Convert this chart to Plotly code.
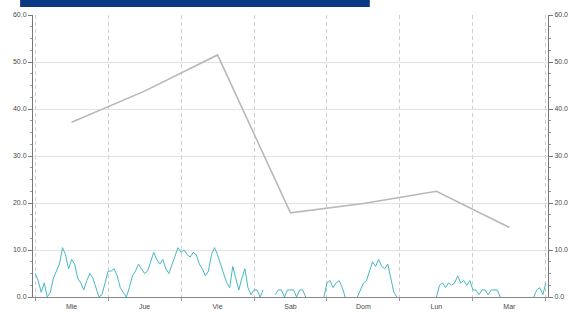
import plotly.graph_objects as go

# Daily values (plotted at noon of each day)
day_labels = ["Mie", "Jue", "Vie", "Sab", "Dom", "Lun", "Mar"]
day_hours = [12, 36, 60, 84, 108, 132, 156]
daily_values = [37.2, 43.8, 51.5, 17.9, 19.9, 22.5, 14.8]

# Hourly series (hours 0..168 from Mie 00:00); None = no data
N = None
hourly_values = [
    5, 3.5, 1, 3, 0, 1, 4, 5.5, 7, 10.5, 9, 6, 8, 7, 4, 3, 1.5, 3.5, 5, 4, 2, 0, 0.5, 3,
    5.5, 5.5, 6, 4.5, 2, 1, 0, 2, 4.5, 5.5, 7, 6, 5, 5.5, 7.5, 9.5, 8, 7, 8, 6, 5, 7, 9, 10.5,
    9.5, 10, 9, 8.5, 9.5, 9, 7, 6, 4.5, 5.5, 9, 10.5, 9, 7, 5, 3, 2, 6.5, 4, 1.5, 4, 6, 2, 0.5,
    1.5, 1.5, 0, 1.5, N, N, N, 0.5, 1.5, 1.5, 0, 1.5, 1.5, 1.5, 0, 1.5, 1.5, 0, N, N, N, N, N, 0,
    3, 3.5, 2, 3, 3.5, 2, 0, N, N, N, 0, 1.5, 3, 3.5, 5.5, 7.5, 6.5, 8, 6.5, 6, 7, 4, 1, 0,
    N, N, N, N, N, N, N, N, N, N, N, N, 0, 2.5, 3, 2, 3, 2.5, 3, 4.5, 3, 3.5, 2.5, 3.5,
    1.5, 1.5, 0.5, 1.5, 1.5, 0.5, 1.5, 1.5, 1.5, 0, N, N, N, N, N, N, N, N, N, N, 0, 1.5, 2, 0.5, 3,
]
hours = list(range(len(hourly_values)))

y_ticks = [0, 10, 20, 30, 40, 50, 60]

fig = go.Figure()
fig.add_trace(go.Scatter(
    x=hours, y=hourly_values, mode="lines",
    line=dict(color="#45b8c6", width=1), connectgaps=False,
    hoverinfo="skip", showlegend=False,
))
fig.add_trace(go.Scatter(
    x=day_hours, y=daily_values, mode="lines", yaxis="y2",
    line=dict(color="#b8b8b8", width=1.6),
    hoverinfo="skip", showlegend=False,
))

axis_font = dict(family="Liberation Sans, Arial, sans-serif", size=7, color="#4a4a4a")
yaxis_common = dict(
    range=[0, 60], tickvals=y_ticks, tickformat=".1f", automargin=False,
    ticks="outside", ticklen=4, tickcolor="#777777",
    showline=True, linecolor="#777777", linewidth=1,
    showgrid=True, gridcolor="#e2e2e2", gridwidth=1,
    zeroline=False, tickfont=axis_font,
    minor=dict(dtick=2.5, ticks="outside", ticklen=2, tickcolor="#999999", showgrid=False),
)

fig.update_layout(
    width=582, height=313,
    margin=dict(l=33, r=34, t=15, b=16),
    paper_bgcolor="white", plot_bgcolor="white",
    xaxis=dict(
        range=[-0.7, 168.7], tickmode="array", tickvals=day_hours, ticktext=day_labels,
        ticks="", showgrid=False, zeroline=False, automargin=False,
        showline=True, linecolor="#888888", linewidth=1,
        tickfont=axis_font, ticklabelstandoff=3,
        minor=dict(tickmode="linear", tick0=0, dtick=24, ticks="outside", ticklen=3,
                   tickcolor="#999999", showgrid=True, gridcolor="#d0d0d0",
                   griddash="4px,3px", gridwidth=1),
    ),
    yaxis=dict(side="left", **yaxis_common),
    yaxis2=dict(side="right", overlaying="y", matches="y", **yaxis_common),
    shapes=[dict(type="rect", xref="paper", yref="paper",
                 x0=-0.025, x1=0.654, y0=1.028, y1=1.06,
                 fillcolor="#0b3a84", line=dict(width=0), layer="above")],
)

fig.write_html(
    "out.html",
    config={"displayModeBar": False},
    post_script="document.body.style.margin='0';document.body.style.overflow='hidden';",
)
